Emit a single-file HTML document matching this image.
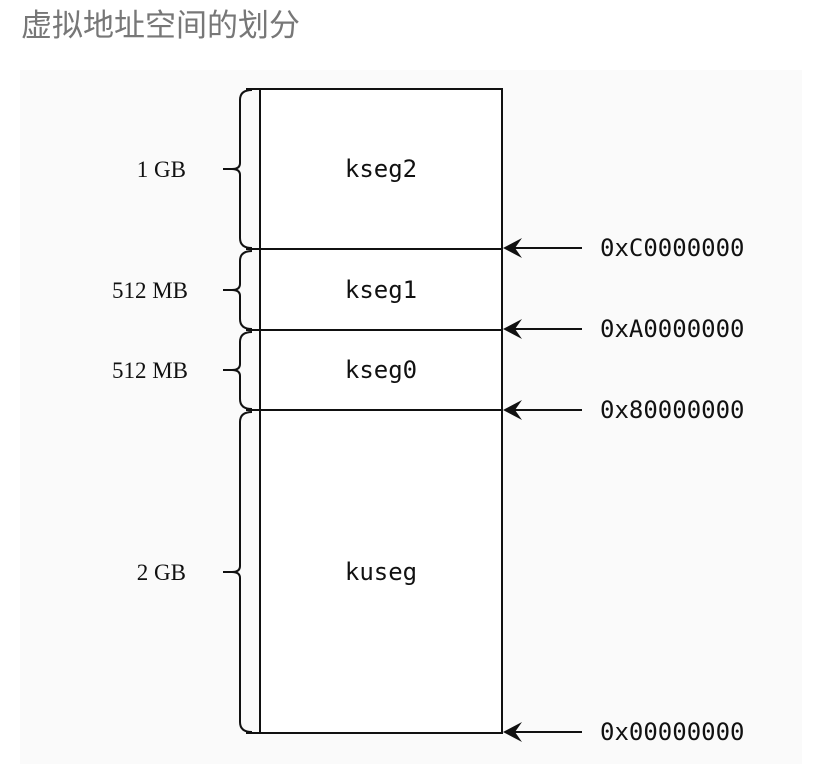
<!DOCTYPE html>
<html><head><meta charset="utf-8"><style>
html,body{margin:0;padding:0;background:#fff;width:820px;height:764px;overflow:hidden}
.t{position:absolute;left:21px;top:0px;font:31px "Liberation Sans","Noto Sans CJK SC",sans-serif;color:#777}
svg{position:absolute;left:0;top:0}
.m{font-family:"DejaVu Sans Mono","Liberation Mono",monospace;font-size:24px;fill:#111}
.s{font-family:"Liberation Serif",serif;font-size:23px;fill:#111}
</style></head><body>
<div class="t">虚拟地址空间的划分</div>
<svg width="820" height="764">
<rect x="20" y="70" width="782" height="694" fill="#fafafa"/>
<g stroke="#111" stroke-width="2" fill="none">
<rect x="260" y="89" width="242" height="644" fill="#fff"/>
<line x1="246" y1="249" x2="502" y2="249"/>
<line x1="246" y1="330" x2="502" y2="330"/>
<line x1="246" y1="410" x2="502" y2="410"/>
<line x1="246" y1="89" x2="260" y2="89"/>
<line x1="246" y1="733" x2="260" y2="733"/>
<path d="M252,90 Q240,90 240,100 L240,163 Q240,169 232,169 L223,169 M232,169 Q240,169 240,175 L240,238 Q240,248 252,248"/>
<path d="M252,251 Q240,251 240,261 L240,284 Q240,290 232,290 L223,290 M232,290 Q240,290 240,296 L240,319 Q240,329 252,329"/>
<path d="M252,332 Q240,332 240,342 L240,364 Q240,370 232,370 L223,370 M232,370 Q240,370 240,376 L240,399 Q240,409 252,409"/>
<path d="M252,412 Q240,412 240,422 L240,566 Q240,572 232,572 L223,572 M232,572 Q240,572 240,578 L240,722 Q240,732 252,732"/>
<line x1="512" y1="248" x2="582" y2="248"/>
<line x1="512" y1="329" x2="582" y2="329"/>
<line x1="512" y1="410" x2="582" y2="410"/>
<line x1="512" y1="732" x2="582" y2="732"/>
</g>
<g fill="#111">
<path d="M503,248 L522,238 L515,248 L522,258 Z"/>
<path d="M503,329 L522,319 L515,329 L522,339 Z"/>
<path d="M503,410 L522,400 L515,410 L522,420 Z"/>
<path d="M503,732 L522,722 L515,732 L522,742 Z"/>
</g>
<g class="m" text-anchor="middle">
<text x="381" y="177">kseg2</text>
<text x="381" y="298">kseg1</text>
<text x="381" y="378">kseg0</text>
<text x="381" y="580">kuseg</text>
</g>
<g class="m">
<text x="600" y="256">0xC0000000</text>
<text x="600" y="337">0xA0000000</text>
<text x="600" y="418">0x80000000</text>
<text x="600" y="740">0x00000000</text>
</g>
<g class="s" text-anchor="end">
<text x="186" y="177">1 GB</text>
<text x="188" y="298">512 MB</text>
<text x="188" y="378">512 MB</text>
<text x="186" y="580">2 GB</text>
</g>
</svg>
</body></html>
